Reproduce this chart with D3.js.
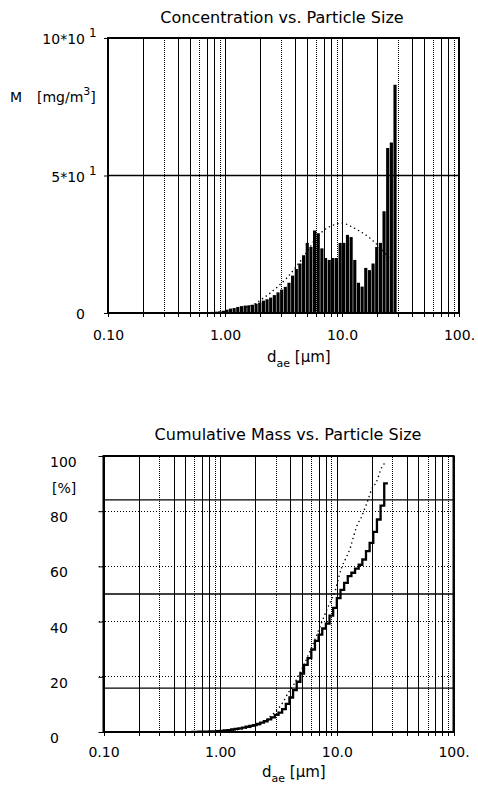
<!doctype html>
<html lang="en">
<head>
<meta charset="utf-8">
<title>Concentration vs. Particle Size</title>
<script src="https://cdn.jsdelivr.net/npm/d3@7"></script>
<style>
  body { margin: 0; background: #fff; }
  svg { display: block; font-family: "DejaVu Sans", sans-serif; }
</style>
</head>
<body>
<svg id="chart" width="478" height="785"></svg>
<script>
// channel midpoints, aerodynamic diameter in µm
var sizes = [0.583, 0.626, 0.673, 0.723, 0.777, 0.835, 0.898, 0.965,
  1.037, 1.114, 1.197, 1.286, 1.382, 1.486, 1.596, 1.715, 1.843, 1.981,
  2.129, 2.288, 2.458, 2.642, 2.839, 3.051, 3.278, 3.523, 3.786, 4.068,
  4.371, 4.698, 5.048, 5.425, 5.829, 6.264, 6.732, 7.234, 7.774, 8.354,
  8.977, 9.647, 10.37, 11.14, 11.97, 12.86, 13.82, 14.86, 15.96, 17.15,
  18.43, 19.81, 21.29, 22.88, 24.58, 26.42, 28.39];

// concentration per channel, mg/m3
var conc = [0.2, 0.2, 0.3, 0.3, 0.4, 0.5, 0.6, 0.8,
  1.2, 1.6, 1.8, 2.2, 2.5, 2.7, 2.8, 3.0, 3.4, 3.8, 4.5, 5.0, 5.6, 6.5, 7.5, 8.5,
  9.5, 11, 13.6, 16, 18, 21, 25.5, 24, 30, 29, 23.5, 20, 19.3, 20, 20, 25.5,
  25.5, 28.4, 27.6, 19.3, 11, 9.6, 16.4, 15.6, 18, 24, 25.5, 37, 60, 62, 83];

// cumulative mass per channel, %
var cumMass = [0.05, 0.05, 0.1, 0.1, 0.15, 0.2, 0.25, 0.3, 0.4, 0.55, 0.7, 0.9, 1.1,
  1.3, 1.6, 1.9, 2.2, 2.5, 2.9, 3.4, 3.9, 4.6, 5.3, 6.2, 7.0, 8.3, 10.2, 12.5,
  15.2, 18.2, 21.2, 24.3, 26.8, 29.9, 33, 35.3, 37.5, 39.3,
  42.2, 45, 48.5, 51.5, 54, 56.5, 57.7, 59.2, 60.6, 62.5, 65.5, 68.5, 72.5, 77, 82, 90.1];

// fitted distribution (dotted)
var fitSize = [0.912, 1.23, 1.49, 1.75, 2.01, 2.31, 2.81, 3.42, 4.17, 5.08, 5.95,
  6.97, 8.48, 10.1, 11.9, 14.5, 16.9, 18.7, 21.4, 26.1, 30.0];
var fitConc = [0.3, 1.2, 2.0, 3.0, 4.7, 6.5, 9.5, 13, 17.5, 22.5, 27,
  30, 32, 32.7, 31.5, 29.5, 27.6, 26, 23.5, 19.5, 17];
var fitCumSize = [1.18, 1.75, 2.13, 2.50, 2.75, 3.04, 3.36, 3.85, 4.25, 4.69, 5.18,
  5.94, 6.56, 7.39, 8.15, 9.0, 9.74, 10.3, 10.96, 12.1, 13.1, 13.9, 14.8, 16.3,
  17.6, 18.3, 19.8, 21.9, 24.1, 26.7];
var fitCum = [0.5, 1.5, 2.5, 4.5, 6.0, 7.8, 10, 14.3, 17, 20.5, 24,
  29.7, 34, 39.5, 44, 48, 51.5, 55.5, 59.4, 63.4, 67, 70.8, 74.5, 78,
  81.6, 83.5, 87.7, 90.7, 95.6, 98];

var xDecades = [0.1, 1, 10, 100];
var xTickLabels = ["0.10", "1.00", "10.0", "100."];
var concTicks = [0, 50, 100];
var concLabels = ["0", "5*10", "10*10"];
var concExp = ["", "1", "1"];
var cumTicks = [0, 20, 40, 60, 80, 100];
var sigmaLevels = [15.9, 50, 84.1];

var svg = d3.select("#chart");

// all log grid values 0.1 ... 100
var gridVals = [];
[0.1, 1, 10].forEach(function(p) {
  for (var i = 1; i < 10; i++) gridVals.push(+(p * i).toPrecision(3));
});
gridVals.push(100);

function isDotted(v) {
  var m = Math.round(v / Math.pow(10, Math.floor(Math.log10(v) + 1e-9)));
  return m === 3 || m === 6 || m === 9;
}

// bin edges from neighbouring midpoints
function binLo(i) { return i > 0 ? Math.sqrt(sizes[i - 1] * sizes[i]) : sizes[0] / Math.sqrt(sizes[1] / sizes[0]); }
function binHi(i) { var n = sizes.length; return i < n - 1 ? Math.sqrt(sizes[i] * sizes[i + 1]) : sizes[i] * Math.sqrt(sizes[i] / sizes[i - 1]); }

function panel(box) {
  var x = d3.scaleLog().domain([0.1, 100]).range([box.left, box.right]);
  var y = d3.scaleLinear().domain([0, 100]).range([box.bottom, box.top]);
  var g = svg.append("g");
  var h = box.bottom - box.top;

  // vertical grid
  var grid = g.append("g").attr("transform", "translate(0," + box.bottom + ")")
    .call(d3.axisBottom(x).tickValues(gridVals).tickSize(-h).tickFormat(""));
  grid.select(".domain").remove();
  grid.selectAll(".tick line")
    .attr("stroke", "#000")
    .attr("shape-rendering", "crispEdges")
    .attr("stroke-width", 1)
    .attr("stroke-dasharray", function(d) { return isDotted(d) ? "1,1" : null; });

  // bottom ticks with labels
  var ax = g.append("g").attr("transform", "translate(0," + box.bottom + ")")
    .call(d3.axisBottom(x).tickValues(gridVals).tickSize(4).tickPadding(box.pad)
      .tickFormat(function(d) { var i = xDecades.indexOf(d); return i >= 0 ? xTickLabels[i] : ""; }));
  ax.select(".domain").remove();
  ax.selectAll(".tick line").attr("stroke", "#000").attr("shape-rendering", "crispEdges");
  ax.selectAll(".tick text").attr("font-size", 14).attr("font-family", "DejaVu Sans").attr("fill", "#000");

  return { g: g, x: x, y: y, box: box };
}

function frame(p) {
  p.g.append("rect")
    .attr("x", p.box.left).attr("y", p.box.top)
    .attr("width", p.box.right - p.box.left).attr("height", p.box.bottom - p.box.top)
    .attr("fill", "none").attr("stroke", "#000").attr("stroke-width", 2);
}

function dottedLine(p, xs, ys) {
  var pts = xs.map(function(d, i) { return [p.x(d), p.y(ys[i])]; });
  p.g.append("path")
    .attr("d", d3.line().curve(d3.curveMonotoneX)(pts))
    .attr("fill", "none").attr("stroke", "#000").attr("stroke-width", 1.6)
    .attr("stroke-linecap", "round").attr("stroke-dasharray", "0,4.5");
}

// ---------- top: concentration ----------
var p1 = panel({ left: 108, right: 459, top: 38, bottom: 313, pad: 13 });

p1.g.append("line")
  .attr("x1", p1.box.left).attr("x2", p1.box.right)
  .attr("y1", p1.y(50)).attr("y2", p1.y(50))
  .attr("stroke", "#000").attr("stroke-width", 1.3);

p1.g.append("g").selectAll("rect").data(conc).enter().append("rect")
  .attr("x", function(d, i) { return p1.x(binLo(i)) + 0.25; })
  .attr("width", function(d, i) { return p1.x(binHi(i)) - p1.x(binLo(i)) - 0.5; })
  .attr("y", function(d) { return p1.y(d); })
  .attr("height", function(d) { return p1.y(0) - p1.y(d); })
  .attr("fill", "#000");

dottedLine(p1, fitSize, fitConc);

var yl1 = p1.g.append("g").attr("transform", "translate(" + p1.box.left + ",0)")
  .call(d3.axisLeft(p1.y).tickValues(concTicks).tickSize(4).tickFormat(""));
yl1.select(".domain").remove();

concTicks.forEach(function(v, i) {
  p1.g.append("text").attr("x", 85).attr("y", p1.y(v) + 6)
    .attr("text-anchor", "end").attr("font-size", 14).text(concLabels[i]);
  if (concExp[i]) {
    p1.g.append("text").attr("x", 89).attr("y", p1.y(v) - 1)
      .attr("font-size", 12).text(concExp[i]);
  }
});
frame(p1);

var mLab = svg.append("text").attr("x", 10).attr("y", 102).attr("font-size", 14);
mLab.append("tspan").text("M");
mLab.append("tspan").attr("x", 37).text("[mg/m");
mLab.append("tspan").attr("dy", -7).attr("font-size", 11).text("3");
mLab.append("tspan").attr("dy", 7).text("]");

svg.append("text").attr("x", 282).attr("y", 23).attr("text-anchor", "middle")
  .attr("font-size", 16).text("Concentration vs. Particle Size");

var xt1 = svg.append("text").attr("x", 267).attr("y", 362).attr("font-size", 15);
xt1.append("tspan").text("d");
xt1.append("tspan").attr("dy", 5).attr("font-size", 11).text("ae");
xt1.append("tspan").attr("dy", -5).text(" [µm]");

// ---------- bottom: cumulative mass ----------
var p2 = panel({ left: 103.5, right: 453.5, top: 456, bottom: 732, pad: 11 });

p2.g.append("g").selectAll("line.h").data(cumTicks.slice(1, -1)).enter().append("line")
  .attr("x1", p2.box.left - 5).attr("x2", p2.box.right)
  .attr("y1", function(d) { return p2.y(d); }).attr("y2", function(d) { return p2.y(d); })
  .attr("stroke", "#000").attr("stroke-width", 1).attr("shape-rendering", "crispEdges")
  .attr("stroke-dasharray", "1.5,1.5");

p2.g.append("g").selectAll("line.s").data(sigmaLevels).enter().append("line")
  .attr("x1", p2.box.left).attr("x2", p2.box.right)
  .attr("y1", function(d) { return p2.y(d); }).attr("y2", function(d) { return p2.y(d); })
  .attr("stroke", "#000").attr("stroke-width", 1.3);

dottedLine(p2, fitCumSize, fitCum);

var stepPts = cumMass.map(function(d, i) { return [p2.x(binLo(i)), p2.y(d)]; });
var last = cumMass.length - 1;
stepPts.push([p2.x(binHi(last)), p2.y(cumMass[last])]);
p2.g.append("path")
  .attr("d", d3.line().curve(d3.curveStepAfter)(stepPts))
  .attr("fill", "none").attr("stroke", "#000").attr("stroke-width", 2.3);

var yl2 = p2.g.append("g").attr("transform", "translate(" + p2.box.left + ",0)")
  .call(d3.axisLeft(p2.y).tickValues(cumTicks).tickSize(5).tickFormat(""));
yl2.select(".domain").remove();

p2.g.append("g").selectAll("text").data(cumTicks).enter().append("text")
  .attr("x", 50).attr("y", function(d) { return p2.y(d) + 11; })
  .attr("font-size", 14).text(function(d) { return d; });
p2.g.append("text").attr("x", 52).attr("y", 493).attr("font-size", 14).text("[%]");
frame(p2);

svg.append("text").attr("x", 288).attr("y", 440).attr("text-anchor", "middle")
  .attr("font-size", 16).text("Cumulative Mass vs. Particle Size");

var xt2 = svg.append("text").attr("x", 262).attr("y", 777).attr("font-size", 15);
xt2.append("tspan").text("d");
xt2.append("tspan").attr("dy", 5).attr("font-size", 11).text("ae");
xt2.append("tspan").attr("dy", -5).text(" [µm]");
</script>
</body>
</html>
